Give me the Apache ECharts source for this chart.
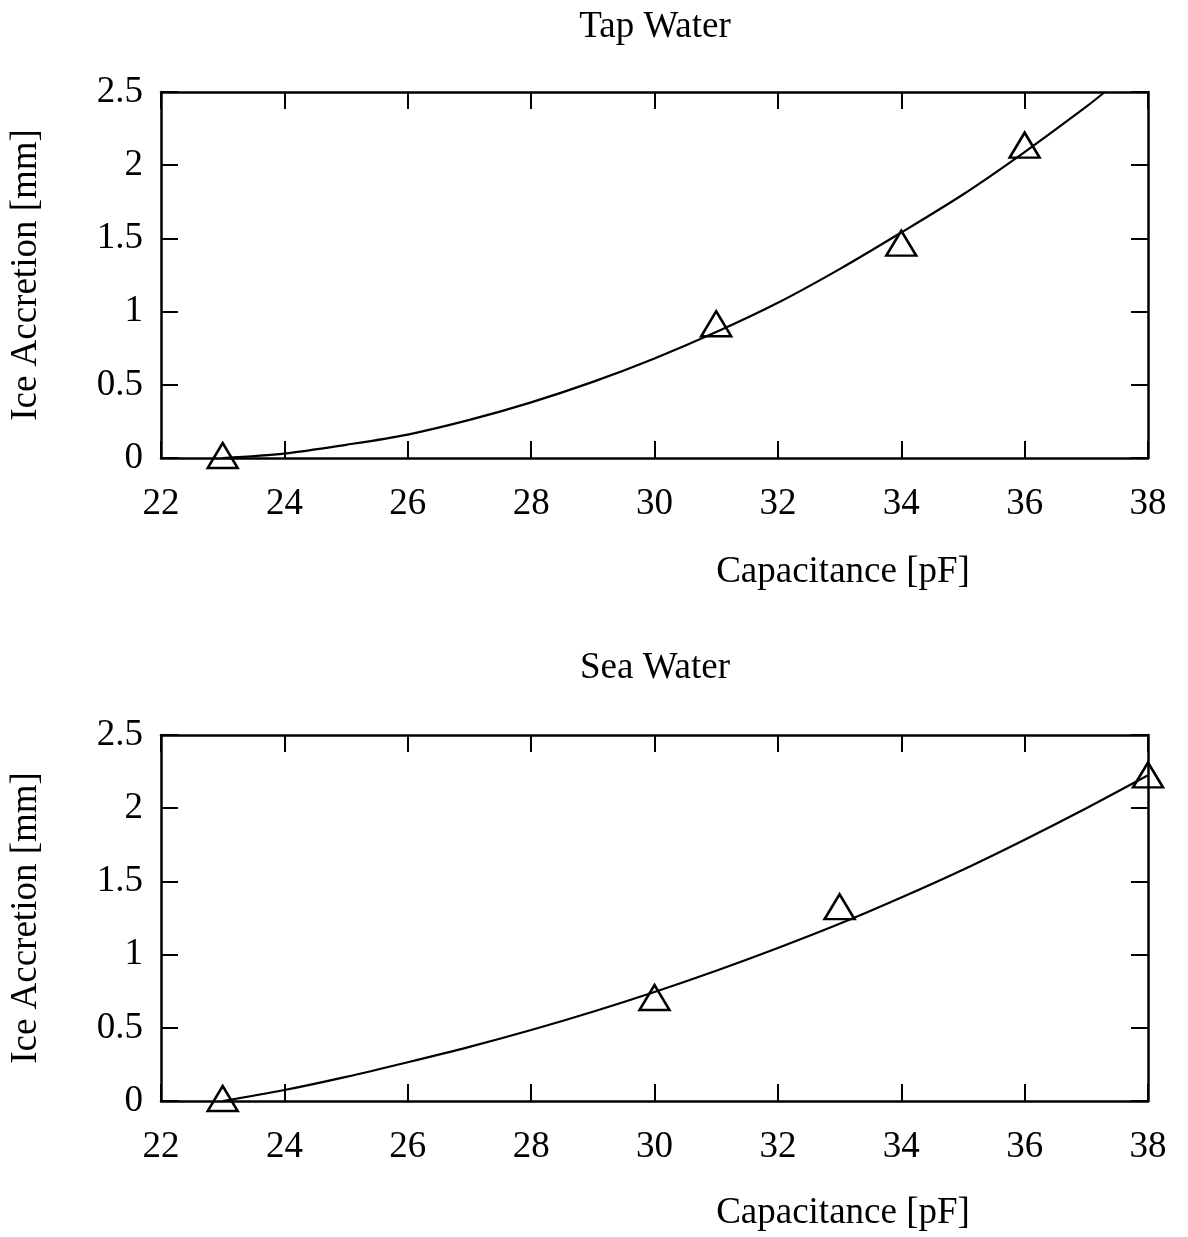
<!DOCTYPE html>
<html>
<head>
<meta charset="utf-8">
<title>Ice Accretion vs Capacitance</title>
<script src="https://cdn.jsdelivr.net/npm/echarts@6/dist/echarts.min.js"></script>
<style>
  html, body { margin: 0; padding: 0; background: #fff; }
  #chart { width: 1188px; height: 1237px; }
</style>
</head>
<body>
<div id="chart"></div>
<script>
// axis ticks
var xTicks = [22, 24, 26, 28, 30, 32, 34, 36, 38];
var yTicks = [0, 0.5, 1, 1.5, 2, 2.5];

var tapX = [23, 31, 34, 36];
var tapY = [0, 0.9, 1.45, 2.12];
var tapFitX = [23, 24, 25, 26, 27, 28, 29, 30, 31, 32, 33, 34, 35, 36, 37, 37.3];
var tapFitY = [0, 0.03, 0.09, 0.16, 0.26, 0.38, 0.52, 0.68, 0.86, 1.06, 1.29, 1.54, 1.8, 2.09, 2.4, 2.5];

// Sea Water
var seaX = [23, 30, 33, 38];
var seaY = [0, 0.69, 1.31, 2.21];
var seaFitX = [23, 24, 25, 26, 27, 28, 29, 30, 31, 32, 33, 34, 35, 36, 37, 38];
var seaFitY = [0, 0.075, 0.165, 0.265, 0.37, 0.485, 0.61, 0.745, 0.89, 1.045, 1.21, 1.39, 1.58, 1.785, 2.0, 2.225];

var FONT = 'Liberation Serif';
var FS = 37;

function pairs(xs, ys) {
	return xs.map(function (x, i) { return [x, ys[i]]; });
}

var chart = echarts.init(document.getElementById('chart'), null, { renderer: 'canvas' });

var grids = [
	{ left: 161, top: 92, width: 987, height: 366 },
	{ left: 161, top: 735, width: 987, height: 366 }
];

var xAxes = [];
var yAxes = [];
grids.forEach(function (g, i) {
	['bottom', 'top'].forEach(function (pos) {
		xAxes.push({
			type: 'value', gridIndex: i, position: pos,
			min: xTicks[0], max: xTicks[xTicks.length - 1], interval: 2,
			axisLine: { show: true, onZero: false, lineStyle: { color: '#000', width: 2.5 } },
			axisTick: { show: true, inside: true, length: 17, lineStyle: { color: '#000', width: 2 } },
			axisLabel: { show: pos === 'bottom', margin: 28, color: '#000', fontFamily: FONT, fontSize: FS },
			splitLine: { show: false }
		});
	});
	['left', 'right'].forEach(function (pos) {
		yAxes.push({
			type: 'value', gridIndex: i, position: pos,
			min: yTicks[0], max: yTicks[yTicks.length - 1], interval: 0.5,
			axisLine: { show: true, onZero: false, lineStyle: { color: '#000', width: 2.5 } },
			axisTick: { show: true, inside: true, length: 17, lineStyle: { color: '#000', width: 2 } },
			axisLabel: { show: pos === 'left', margin: 18, color: '#000', fontFamily: FONT, fontSize: FS },
			splitLine: { show: false }
		});
	});
});

function fitSeries(gi, xs, ys) {
	return {
		type: 'line', xAxisIndex: gi * 2, yAxisIndex: gi * 2,
		data: pairs(xs, ys), smooth: 0.3, showSymbol: false, silent: true,
		lineStyle: { color: '#000', width: 2.2 }, z: 2
	};
}
function pointSeries(gi, xs, ys) {
	return {
		type: 'scatter', xAxisIndex: gi * 2, yAxisIndex: gi * 2,
		data: pairs(xs, ys), symbol: 'triangle', symbolSize: [30, 25], symbolOffset: [0, -2.5],
		itemStyle: { color: 'rgba(0,0,0,0)', borderColor: '#000', borderWidth: 2.5, opacity: 1 },
		clip: false, z: 3
	};
}

function label(text, x, y, rot) {
	return {
		type: 'text', x: x, y: y, rotation: rot || 0,
		style: { text: text, font: FS + 'px "' + FONT + '"', fill: '#000', align: 'center', verticalAlign: 'middle' }
	};
}

var option = {
	backgroundColor: '#fff',
	animation: false,
	grid: grids,
	xAxis: xAxes,
	yAxis: yAxes,
	series: [
		fitSeries(0, tapFitX, tapFitY),
		pointSeries(0, tapX, tapY),
		fitSeries(1, seaFitX, seaFitY),
		pointSeries(1, seaX, seaY)
	],
	graphic: [
		label('Tap Water', 655, 27),
		label('Capacitance [pF]', 843, 572),
		label('Ice Accretion [mm]', 26, 275, Math.PI / 2),
		label('Sea Water', 655, 668),
		label('Capacitance [pF]', 843, 1213),
		label('Ice Accretion [mm]', 26, 918, Math.PI / 2)
	]
};

chart.setOption(option);
</script>
</body>
</html>
